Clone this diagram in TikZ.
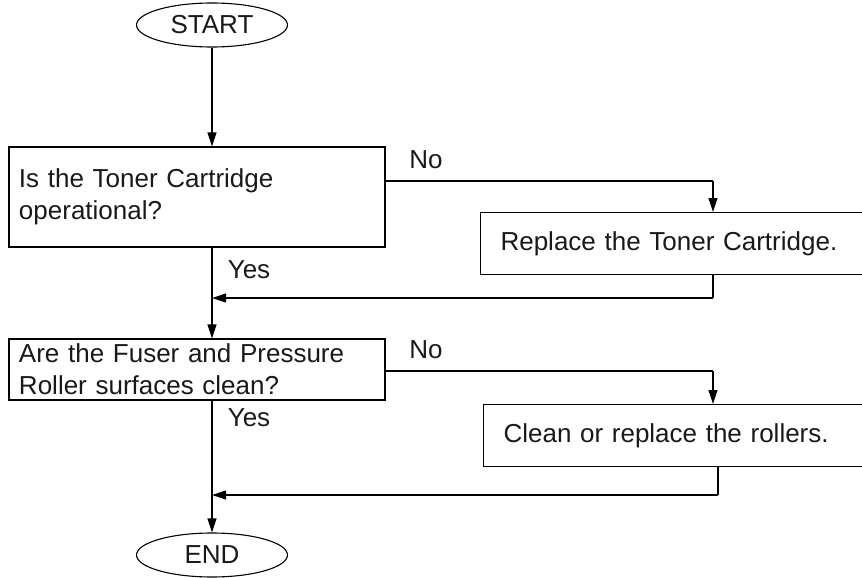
\documentclass[tikz,border=0pt]{standalone}
\usepackage{fontspec}
\setmainfont{Liberation Sans}
\usetikzlibrary{shapes.geometric,arrows.meta,calc}
\tikzset{
  every node/.style={font=\fontsize{26}{32}\selectfont, text=black!90},
  terminal/.style={draw, ellipse, line width=1.1pt, minimum width=151pt, minimum height=44pt, inner sep=0pt},
  qbox/.style={draw, rectangle, line width=1.1pt, minimum width=376pt, text width=356pt, align=left, inner xsep=10pt, inner ysep=0pt},
  abox/.style={draw, rectangle, line width=1.1pt, anchor=north west, minimum width=440pt, minimum height=62pt, text width=400pt, align=left, inner xsep=19pt, inner ysep=0pt},
  conn/.style={line width=1.1pt},
  arr/.style={line width=1.1pt, -{Triangle[length=14pt,width=9pt]}},
  lbl/.style={inner sep=0pt}
}
\begin{document}
\begin{tikzpicture}[x=1pt,y=-1pt]
\useasboundingbox (0,0) rectangle (862,578);
\clip (0,0) rectangle (862,578);
\node[terminal] (start) at (212,25) {START};
\node[qbox, minimum height=100pt] (q1) at (197,197) {Is the Toner Cartridge\\operational?\\[4pt]};
\node[abox] (r1) at (480,212) {Replace the Toner Cartridge.};
\node[qbox, minimum height=61pt] (q2) at (197,369.5) {Are the Fuser and Pressure\\Roller surfaces clean?};
\node[abox] (r2) at (483,404) {Clean or replace the rollers.};
\node[terminal] (end) at (212,555) {END};
\node[lbl] (no1) at (426,160) {No};
\node[lbl] (no2) at (426,350) {No};
\node[lbl] (yes1) at (249,270) {Yes};
\node[lbl] (yes2) at (249,418) {Yes};
\coordinate (m1) at (212,298);
\coordinate (m2) at (212,495);
\coordinate (b1) at (713,181);
\coordinate (b2) at (713,371);
\coordinate (c1) at (713,298);
\coordinate (c2) at (718,495);
\draw[arr] (start.south) -- (start.south |- q1.north);
\draw[conn] (q1.south -| start.south) -- (m1);
\draw[arr] (m1) -- (start.south |- q2.north);
\draw[conn] (q1.east |- b1) -- (b1);
\draw[arr] (b1) -- (b1 |- r1.north);
\draw[conn] (b1 |- r1.south) -- (c1);
\draw[arr] (c1) -- (m1);
\draw[conn] (q2.east |- b2) -- (b2);
\draw[arr] (b2) -- (b2 |- r2.north);
\draw[conn] (c2 |- r2.south) -- (c2);
\draw[arr] (c2) -- (m2);
\draw[arr] (q2.south -| start.south) -- (end.north);
\end{tikzpicture}
\end{document}
